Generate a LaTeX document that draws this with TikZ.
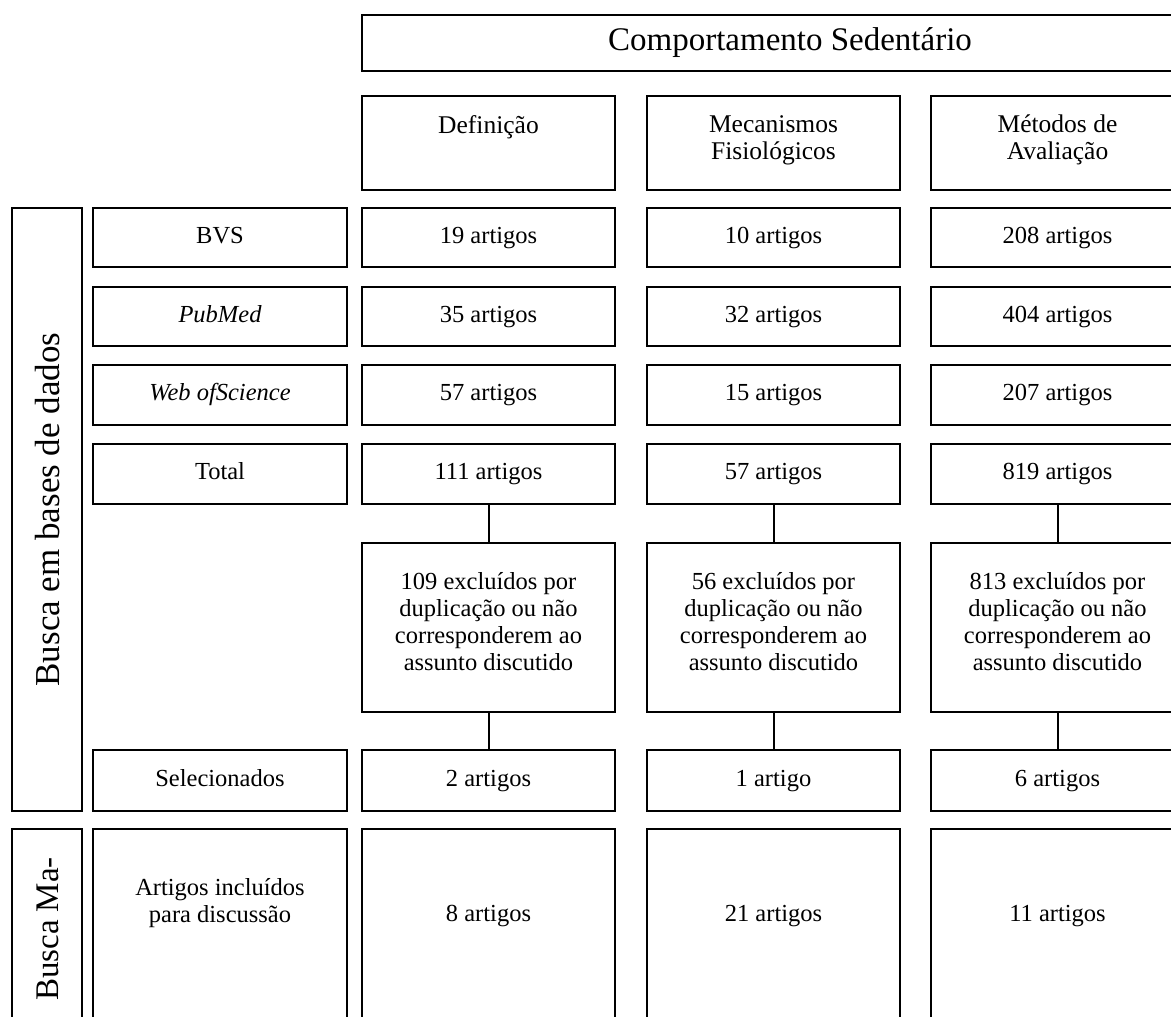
\documentclass[tikz,border=0pt]{standalone}
\usepackage{fontspec}
\setmainfont{Liberation Serif}
\begin{document}
\begin{tikzpicture}[x=1pt,y=-1pt,
  box/.style={draw, line width=1.4pt, anchor=north west, inner sep=0pt, outer sep=0pt,
    font=\fontsize{24.5}{27}\selectfont, text height=16pt, text depth=5pt},
  txt/.style={inner sep=0pt, align=center, font=\fontsize{24.5}{27}\selectfont},
  head/.style={inner sep=0pt, align=center, font=\fontsize{25.5}{27}\selectfont},
  big/.style={inner sep=0pt, align=center, font=\fontsize{33}{36}\selectfont},
  conn/.style={draw, line width=2pt}]
\useasboundingbox (0,0) rectangle (1171,1017);
\clip (0,0) rectangle (1171,1017);

% title and column heads
\node[box, minimum width=856pt, minimum height=56pt] (top) at (362,15) {};
\node[big] (toptxt) at (790,43) {Comportamento Sedentário};

\node[box, minimum width=253pt, minimum height=94pt] (h1) at (362,96) {};
\node[box, minimum width=253pt, minimum height=94pt] (h2) at (647,96) {};
\node[box, minimum width=253pt, minimum height=94pt] (h3) at (931,96) {};
\node[head, anchor=north] (h1t) at ([yshift=-19pt]h1.north) {Definição};
\node[head, anchor=north] (h2t) at ([yshift=-19pt]h2.north) {Mecanismos\\Fisiológicos};
\node[head, anchor=north] (h3t) at ([yshift=-19pt]h3.north) {Métodos de\\Avaliação};

% side labels
\node[box, minimum width=70pt, minimum height=603pt] (side1) at (12,208) {};
\node[big, rotate=90, font=\fontsize{35}{38}\selectfont] (side1t) at ([xshift=1pt]side1.center) {Busca em bases de dados};
\node[box, minimum width=70pt, minimum height=260pt] (side2) at (12,829) {};
\node[big, rotate=90] (side2t) at (48,929) {Busca Ma-};

% row labels
\node[box, minimum width=254pt, minimum height=59pt] (rBVS) at (93,208) {BVS};
\node[box, minimum width=254pt, minimum height=59pt] (rPub) at (93,287) {\itshape PubMed};
\node[box, minimum width=254pt, minimum height=60pt] (rWeb) at (93,365) {\itshape Web ofScience};
\node[box, minimum width=254pt, minimum height=60pt] (rTot) at (93,444) {Total};
\node[box, minimum width=254pt, minimum height=61pt] (rSel) at (93,750) {Selecionados};
\node[box, minimum width=254pt, minimum height=260pt] (rInc) at (93,829) {};
\node[txt] (rInct) at (220,903) {Artigos incluídos\\para discussão};

% column 1
\node[box, minimum width=253pt, minimum height=59pt] (a1) at (362,208) {19 artigos};
\node[box, minimum width=253pt, minimum height=59pt] (a2) at (362,287) {35 artigos};
\node[box, minimum width=253pt, minimum height=60pt] (a3) at (362,365) {57 artigos};
\node[box, minimum width=253pt, minimum height=60pt] (a4) at (362,444) {111 artigos};
\node[box, minimum width=253pt, minimum height=169pt] (a5) at (362,543) {};
\node[txt] (a5t) at (488.5,622) {109 excluídos por\\duplicação ou não\\corresponderem ao\\assunto discutido};
\node[box, minimum width=253pt, minimum height=61pt] (a6) at (362,750) {2 artigos};
\node[box, minimum width=253pt, minimum height=260pt] (a7) at (362,829) {};
\node[txt] (a7t) at (488.5,916) {8 artigos};

% column 2
\node[box, minimum width=253pt, minimum height=59pt] (b1) at (647,208) {10 artigos};
\node[box, minimum width=253pt, minimum height=59pt] (b2) at (647,287) {32 artigos};
\node[box, minimum width=253pt, minimum height=60pt] (b3) at (647,365) {15 artigos};
\node[box, minimum width=253pt, minimum height=60pt] (b4) at (647,444) {57 artigos};
\node[box, minimum width=253pt, minimum height=169pt] (b5) at (647,543) {};
\node[txt] (b5t) at (773.5,622) {56 excluídos por\\duplicação ou não\\corresponderem ao\\assunto discutido};
\node[box, minimum width=253pt, minimum height=61pt] (b6) at (647,750) {1 artigo};
\node[box, minimum width=253pt, minimum height=260pt] (b7) at (647,829) {};
\node[txt] (b7t) at (773.5,916) {21 artigos};

% column 3
\node[box, minimum width=253pt, minimum height=59pt] (c1) at (931,208) {208 artigos};
\node[box, minimum width=253pt, minimum height=59pt] (c2) at (931,287) {404 artigos};
\node[box, minimum width=253pt, minimum height=60pt] (c3) at (931,365) {207 artigos};
\node[box, minimum width=253pt, minimum height=60pt] (c4) at (931,444) {819 artigos};
\node[box, minimum width=253pt, minimum height=169pt] (c5) at (931,543) {};
\node[txt] (c5t) at (1057.5,622) {813 excluídos por\\duplicação ou não\\corresponderem ao\\assunto discutido};
\node[box, minimum width=253pt, minimum height=61pt] (c6) at (931,750) {6 artigos};
\node[box, minimum width=253pt, minimum height=260pt] (c7) at (931,829) {};
\node[txt] (c7t) at (1057.5,916) {11 artigos};

% connectors between the totals, the exclusion notes and the selections
\path[conn] (a4.south) -- (a5.north);
\path[conn] (a5.south) -- (a6.north);
\path[conn] (b4.south) -- (b5.north);
\path[conn] (b5.south) -- (b6.north);
\path[conn] (c4.south) -- (c5.north);
\path[conn] (c5.south) -- (c6.north);
\end{tikzpicture}
\end{document}
